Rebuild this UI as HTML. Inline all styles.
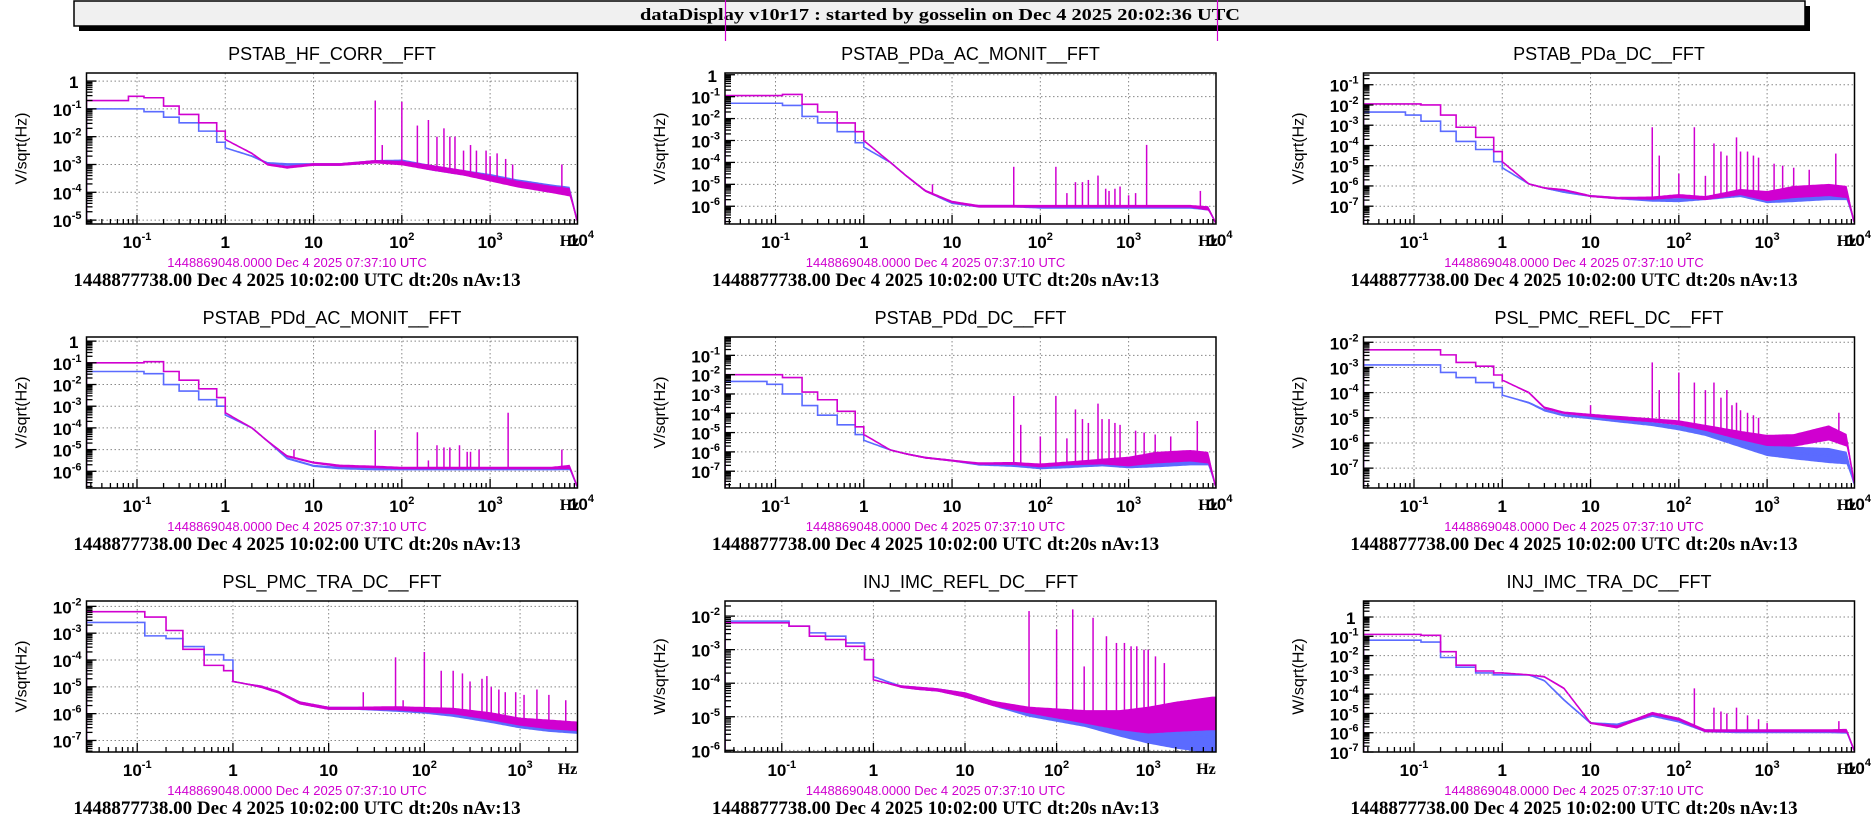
<!DOCTYPE html>
<html><head><meta charset="utf-8"><style>
html,body{margin:0;padding:0;background:#fff;}
svg{display:block;}
</style></head><body>
<svg id="root" width="1871" height="827" viewBox="0 0 1871 827" xmlns="http://www.w3.org/2000/svg">
<g>
<rect x="79" y="6" width="1731" height="25" fill="#000"/>
<rect x="74" y="1" width="1731" height="25" fill="#f0f0f0" stroke="#000" stroke-width="1.5"/>
<text x="940" y="20" text-anchor="middle" font-family="Liberation Serif, serif" font-weight="bold" font-size="17" textLength="600" lengthAdjust="spacingAndGlyphs">dataDisplay v10r17 : started by gosselin on Dec  4 2025 20:02:36 UTC</text>
</g>
<line x1="725.5" y1="0" x2="725.5" y2="41" stroke="#d000d0" stroke-width="1.2"/>
<line x1="1217.5" y1="0" x2="1217.5" y2="41" stroke="#d000d0" stroke-width="1.2"/>
<g id="panels"></g>
</svg>
<script>
// shared frequency grid (Hz)
const F = [0.027,0.08,0.12,0.2,0.3,0.5,0.8,1,2,3,5,10,20,50,100,200,500,1000,2000,5000,8000,9800];
const TITLES = ["PSTAB_HF_CORR__FFT","PSTAB_PDa_AC_MONIT__FFT","PSTAB_PDa_DC__FFT","PSTAB_PDd_AC_MONIT__FFT","PSTAB_PDd_DC__FFT","PSL_PMC_REFL_DC__FFT","PSL_PMC_TRA_DC__FFT","INJ_IMC_REFL_DC__FFT","INJ_IMC_TRA_DC__FFT"];
const YLABELS = ["V/sqrt(Hz)","V/sqrt(Hz)","V/sqrt(Hz)","V/sqrt(Hz)","V/sqrt(Hz)","V/sqrt(Hz)","V/sqrt(Hz)","W/sqrt(Hz)","W/sqrt(Hz)"];
const XRANGE = [[-1.572,3.99],[-1.572,3.99],[-1.572,3.99],[-1.572,3.99],[-1.572,3.99],[-1.572,3.99],[-1.53,3.6],[-1.62,3.74],[-1.572,3.99]];
const YRANGE = [[0.29,-5.14],[0.08,-6.81],[-0.42,-7.88],[0.19,-6.77],[-0.05,-7.87],[-1.79,-7.79],[-1.8,-7.43],[-1.55,-6.05],[0.83,-7.0]];
// log10 amplitude at grid F: magenta (reference) and blue (current)
const MAG1=[-0.7,-0.55,-0.6,-0.9,-1.2,-1.5,-1.8,-2.1,-2.6,-3.0,-3.1,-3.0,-3.0,-2.9,-2.95,-3.1,-3.3,-3.5,-3.7,-3.9,-4.0,-5.1];
const BLU1=[-1.0,-1.0,-1.1,-1.3,-1.5,-1.8,-2.2,-2.4,-2.7,-2.95,-3.0,-3.0,-3.0,-2.9,-2.9,-3.1,-3.3,-3.45,-3.65,-3.85,-3.95,-5.1];
const MAG2=[-0.95,-0.95,-0.9,-1.35,-1.7,-2.2,-2.6,-3.0,-4.0,-4.6,-5.3,-5.8,-6.0,-6.0,-6.0,-6.0,-6.0,-6.0,-6.0,-6.0,-6.1,-6.8];
const BLU2=[-1.3,-1.3,-1.4,-1.9,-2.2,-2.6,-3.1,-3.3,-4.0,-4.6,-5.3,-5.85,-6.0,-6.0,-6.05,-6.05,-6.05,-6.05,-6.05,-6.05,-6.1,-6.8];
const MAG3=[-1.95,-1.95,-2.0,-2.5,-3.1,-3.6,-4.3,-4.8,-5.9,-6.1,-6.2,-6.5,-6.6,-6.6,-6.5,-6.6,-6.3,-6.5,-6.3,-6.2,-6.3,-7.9];
const BLU3=[-2.35,-2.5,-2.8,-3.3,-3.8,-4.2,-4.8,-5.1,-5.9,-6.1,-6.3,-6.5,-6.6,-6.7,-6.7,-6.6,-6.4,-6.6,-6.5,-6.4,-6.4,-7.9];
const MAG4=[-1.0,-1.0,-0.95,-1.4,-1.8,-2.2,-2.6,-3.3,-4.0,-4.6,-5.3,-5.6,-5.75,-5.8,-5.85,-5.85,-5.85,-5.85,-5.85,-5.85,-5.8,-6.77];
const BLU4=[-1.4,-1.4,-1.5,-2.0,-2.3,-2.7,-3.0,-3.4,-4.0,-4.6,-5.4,-5.75,-5.85,-5.9,-5.9,-5.9,-5.9,-5.9,-5.9,-5.9,-5.85,-6.77];
const MAG5=[-2.0,-2.0,-2.15,-2.9,-3.3,-3.9,-4.7,-5.1,-5.9,-6.1,-6.3,-6.45,-6.6,-6.6,-6.7,-6.6,-6.5,-6.5,-6.3,-6.2,-6.3,-7.9];
const BLU5=[-2.35,-2.5,-3.0,-3.6,-4.1,-4.6,-5.1,-5.4,-5.9,-6.1,-6.3,-6.45,-6.65,-6.7,-6.8,-6.75,-6.6,-6.6,-6.5,-6.4,-6.4,-7.9];
const MAG6=[-2.3,-2.3,-2.3,-2.5,-2.8,-2.95,-3.3,-3.5,-4.0,-4.6,-4.8,-4.9,-5.0,-5.1,-5.2,-5.4,-5.7,-5.9,-5.9,-5.6,-5.9,-7.7];
const BLU6=[-2.9,-2.9,-2.9,-3.2,-3.4,-3.6,-3.8,-4.1,-4.4,-4.7,-4.9,-5.0,-5.1,-5.25,-5.4,-5.6,-6.0,-6.3,-6.4,-6.5,-6.6,-7.7];
const MAG7=[-2.2,-2.2,-2.4,-2.9,-3.6,-4.2,-4.4,-4.8,-5.0,-5.2,-5.6,-5.8,-5.8,-5.8,-5.85,-5.9,-6.1,-6.3,-6.4,-6.5,-6.6,-7.4];
const BLU7=[-2.6,-2.6,-3.1,-3.2,-3.5,-3.8,-4.0,-4.8,-5.0,-5.2,-5.6,-5.8,-5.8,-5.85,-5.9,-6.0,-6.2,-6.4,-6.5,-6.6,-6.7,-7.4];
const MAG8=[-2.2,-2.2,-2.3,-2.6,-2.7,-2.9,-3.3,-3.9,-4.1,-4.15,-4.2,-4.35,-4.6,-4.8,-4.9,-5.0,-5.1,-5.1,-5.0,-4.9,-4.9,-4.9];
const BLU8=[-2.15,-2.15,-2.3,-2.5,-2.6,-2.8,-3.3,-3.8,-4.1,-4.15,-4.2,-4.35,-4.6,-4.9,-5.0,-5.1,-5.3,-5.4,-5.5,-5.6,-5.6,-5.6];
const MAG9=[-0.9,-0.9,-0.95,-1.8,-2.5,-2.8,-2.9,-2.9,-3.0,-3.1,-3.7,-5.5,-5.7,-5.0,-5.3,-5.9,-5.9,-5.9,-5.9,-5.9,-5.9,-7.0];
const BLU9=[-1.2,-1.2,-1.3,-2.1,-2.6,-2.9,-3.0,-3.0,-3.0,-3.3,-4.3,-5.5,-5.6,-5.1,-5.4,-5.9,-5.95,-5.95,-5.95,-5.95,-5.95,-7.0];
// noise band half-width (decades) at grid F
const W1=[0,0,0,0,0,0,0,0,0.03,0.04,0.05,0.05,0.05,0.06,0.08,0.1,0.1,0.11,0.12,0.13,0.15,0.03];
const W2=[0,0,0,0,0,0,0,0,0.03,0.04,0.05,0.05,0.06,0.06,0.06,0.06,0.06,0.06,0.06,0.06,0.1,0.03];
const W3=[0,0,0,0,0,0,0,0,0.03,0.04,0.05,0.05,0.06,0.08,0.1,0.1,0.15,0.25,0.3,0.3,0.3,0.03];
const W4=W2;
const W5=W3;
const W6=[0,0,0,0,0,0,0,0,0.04,0.05,0.05,0.06,0.08,0.08,0.1,0.12,0.18,0.22,0.25,0.3,0.25,0.03];
const W7=[0,0,0,0,0,0,0,0,0.05,0.05,0.06,0.06,0.06,0.08,0.1,0.12,0.15,0.15,0.18,0.18,0.18,0.03];
const W8=[0,0,0,0,0,0,0,0,0.04,0.05,0.05,0.08,0.08,0.1,0.15,0.2,0.3,0.4,0.45,0.5,0.5,0.5];
const W9=[0,0,0,0,0,0,0,0,0.03,0.04,0.05,0.05,0.08,0.08,0.08,0.08,0.08,0.08,0.08,0.08,0.1,0.03];
// spectral lines: frequency (Hz) and peak log10 amplitude
const PKF1=[50,60,100,150,200,250,300,350,400,500,600,700,900,1000,1200,1500,1800,6500];
const PKA1=[-0.7,-2.3,-0.75,-1.6,-1.4,-2.0,-1.7,-2.0,-2.0,-2.5,-2.3,-2.5,-2.5,-2.7,-2.6,-2.8,-3.0,-3.0];
const PKF2=[6,50,150,200,250,300,350,450,550,600,700,800,1000,1200,1600,6500];
const PKA2=[-5.0,-4.2,-4.2,-5.4,-4.9,-4.9,-4.8,-4.6,-5.2,-5.3,-5.2,-5.1,-5.5,-5.4,-3.2,-5.3];
const PKF3=[50,60,100,150,200,250,300,350,450,500,600,700,800,1200,1500,2000,3000,6000];
const PKA3=[-3.1,-4.5,-5.4,-3.1,-5.5,-3.9,-4.3,-4.5,-3.6,-4.3,-4.3,-4.5,-4.6,-4.9,-5.0,-5.1,-5.2,-4.4];
const PKF4=[6,50,150,200,250,300,350,450,550,600,750,1600,6500];
const PKA4=[-5.0,-4.1,-4.2,-5.5,-4.8,-4.9,-4.9,-4.8,-5.1,-5.1,-5.0,-3.3,-5.0];
const PKF5=[50,60,100,150,200,250,300,350,450,500,600,700,800,1200,1500,2000,3000,6000];
const PKA5=[-3.1,-4.6,-5.2,-3.1,-5.3,-3.8,-4.3,-4.5,-3.5,-4.3,-4.3,-4.5,-4.6,-4.9,-5.0,-5.1,-5.2,-4.4];
const PKF6=[10,50,60,100,150,200,250,300,350,400,450,500,600,700,800,6500];
const PKA6=[-4.5,-2.8,-3.9,-3.2,-3.6,-3.9,-3.6,-4.2,-3.9,-4.5,-4.4,-4.7,-4.8,-4.9,-5.0,-4.8];
const PKF7=[23,50,60,100,150,200,250,300,400,450,500,600,700,900,1100,1500,2000,3000];
const PKA7=[-5.2,-3.9,-5.5,-3.7,-4.4,-4.4,-4.5,-4.8,-4.7,-4.6,-5.0,-5.1,-5.2,-5.2,-5.3,-5.1,-5.3,-5.5];
const PKF8=[50,100,150,200,250,350,450,550,650,750,900,1000,1200,1500];
const PKA8=[-1.85,-2.4,-1.8,-3.5,-2.05,-2.6,-2.8,-2.8,-2.9,-2.9,-3.0,-3.0,-3.2,-3.4];
const PKF9=[150,250,300,350,450,600,800,1000,6500];
const PKA9=[-3.7,-4.7,-4.9,-5.0,-4.7,-5.1,-5.3,-5.5,-5.4];

const MAGS=[MAG1,MAG2,MAG3,MAG4,MAG5,MAG6,MAG7,MAG8,MAG9];
const BLUS=[BLU1,BLU2,BLU3,BLU4,BLU5,BLU6,BLU7,BLU8,BLU9];
const WS=[W1,W2,W3,W4,W5,W6,W7,W8,W9];
const PKFS=[PKF1,PKF2,PKF3,PKF4,PKF5,PKF6,PKF7,PKF8,PKF9];
const PKAS=[PKA1,PKA2,PKA3,PKA4,PKA5,PKA6,PKA7,PKA8,PKA9];

const NS="http://www.w3.org/2000/svg";
const MAGC="#d000d0", BLUC="#5b6bff";
const FW=491, FH=151;
function mk(tag, attrs, parent){const e=document.createElementNS(NS,tag);for(const k in attrs)e.setAttribute(k,attrs[k]);if(parent)parent.appendChild(e);return e;}
function interp(arr, lf){
  const L=F.map(Math.log10);
  if(lf<=L[0])return arr[0];
  for(let i=1;i<L.length;i++){ if(lf<=L[i]){const t=(lf-L[i-1])/(L[i]-L[i-1]);return arr[i-1]+t*(arr[i]-arr[i-1]);} }
  return arr[arr.length-1];
}
function supLabel(g,x,y,base,exp,anchor,size){
  const t=mk('text',{x:x,y:y,'text-anchor':anchor,'font-family':'Liberation Sans, sans-serif','font-weight':'bold','font-size':size,fill:'#000'},g);
  if(exp===null){t.textContent=base;return t;}
  const a=mk('tspan',{},t);a.textContent=base;
  const b=mk('tspan',{dy:-8,'font-size':Math.round(size*0.65)},t);b.textContent=exp;
  return t;
}
const root=document.getElementById('panels');
for(let p=0;p<9;p++){
  const col=p%3,row=Math.floor(p/3);
  const X0=86.5+col*638.5, Y0=73+row*264;
  const [lx0,lx1]=XRANGE[p],[ly0,ly1]=YRANGE[p];
  const sx=lf=>X0+(lf-lx0)/(lx1-lx0)*FW;
  const sy=lv=>Y0+(ly0-lv)/(ly0-ly1)*FH;
  const g=mk('g',{},root);
  
  
  const cid='clip'+p;
  const cp=mk('clipPath',{id:cid},g);mk('rect',{x:X0,y:Y0,width:FW,height:FH},cp);
  const title=mk('text',{x:X0+FW/2,y:Y0-13,'text-anchor':'middle','font-family':'Liberation Sans, sans-serif','font-size':18,fill:'#000'},g);
  title.textContent=TITLES[p];
  
  
  const yl=mk('text',{x:0,y:0,transform:`translate(${X0-60},${Y0+FH/2}) rotate(-90)`,'text-anchor':'middle','font-family':'Liberation Sans, sans-serif','font-size':16,fill:'#000'},g);
  yl.textContent=YLABELS[p];
  
  
  const grid=mk('g',{stroke:'#888','stroke-width':1,'stroke-dasharray':'1.5,2.5'},g);
  
  
  for(let d=Math.ceil(lx0);d<=Math.floor(lx1);d++){const x=sx(d);mk('line',{x1:x,y1:Y0,x2:x,y2:Y0+FH},grid);}
  for(let d=Math.ceil(ly1);d<=Math.floor(ly0);d++){const y=sy(d);mk('line',{x1:X0,y1:y,x2:X0+FW,y2:y},grid);}
  const series=[[BLUS[p],BLUC,'blue-spectrum'],[MAGS[p],MAGC,'magenta-reference-spectrum']];
  const W=WS[p];
  for(const [arr,color,name] of series){
    const sg=mk('g',{'clip-path':`url(#${cid})`},g);
    
    
    let d=`M${X0},${sy(ly1-1)} L${X0},${sy(arr[0])}`;
    for(let i=1;i<8;i++){d+=` L${sx(Math.log10(F[i]))},${sy(arr[i-1])} L${sx(Math.log10(F[i]))},${sy(arr[i])}`;}
    const up=[],lo=[];
    for(let lf=0;lf<=lx1+0.3;lf+=0.02){
      const v=interp(arr,lf),w=interp(W,lf);
      d+=` L${sx(lf).toFixed(1)},${sy(v).toFixed(1)}`;
      up.push(`${sx(lf).toFixed(1)},${sy(v+w).toFixed(1)}`);
      lo.unshift(`${sx(lf).toFixed(1)},${sy(v-w).toFixed(1)}`);
    }
    const band=mk('polygon',{points:up.concat(lo).join(' '),fill:color},sg);
    
    
    const path=mk('path',{d:d,fill:'none',stroke:color,'stroke-width':1.6},sg);
    
    
    if(color===MAGC){
      const pf=PKFS[p],pa=PKAS[p];
      for(let i=0;i<pf.length;i++){
        const lf=Math.log10(pf[i]);
        const ln=mk('line',{x1:sx(lf),x2:sx(lf),y1:sy(interp(arr,lf)),y2:sy(pa[i]),stroke:color,'stroke-width':1.5},sg);
        
        
      }
    }
  }
  const fr=mk('rect',{x:X0,y:Y0,width:FW,height:FH,fill:'none',stroke:'#000','stroke-width':1.5},g);
  
  
  const tk=mk('g',{stroke:'#000','stroke-width':1.3},g);
  
  
  for(let d=Math.floor(lx0);d<=Math.ceil(lx1);d++){
    for(let m=1;m<10;m++){const lf=d+Math.log10(m);if(lf<lx0||lf>lx1)continue;const x=sx(lf);
      mk('line',{x1:x,y1:Y0+FH,x2:x,y2:Y0+FH-(m===1?9:5)},tk);}
  }
  for(let d=Math.floor(ly1);d<=Math.ceil(ly0);d++){
    for(let m=1;m<10;m++){const lv=d+Math.log10(m);if(lv<ly1||lv>ly0)continue;const y=sy(lv);
      mk('line',{x1:X0,y1:y,x2:X0+(m===1?10:6),y2:y},tk);}
  }
  const xl=mk('g',{},g);
  
  
  for(let d=Math.ceil(lx0);d<=Math.floor(lx1);d++){
    const x=sx(d),y=Y0+FH+24;
    if(d===0)supLabel(xl,x,y,'1',null,'middle',17);
    else if(d===1)supLabel(xl,x,y,'10',null,'middle',17);
    else supLabel(xl,x,y,'10',String(d),'middle',17);
  }
  if(lx1>3.9) supLabel(xl,X0+FW+4,Y0+FH+22,'10','4','middle',17);
  const hz=mk('text',{x:X0+FW-(lx1>3.9?8:10),y:Y0+FH+22,'text-anchor':'middle','font-family':'Liberation Serif, serif','font-weight':'bold','font-size':16,fill:'#000'},xl);
  hz.textContent='Hz';
  const yg=mk('g',{},g);
  
  
  for(let d=Math.ceil(ly1);d<=Math.floor(ly0);d++){
    const y=sy(d)+7;
    if(d===0)supLabel(yg,X0-8,y,'1',null,'end',17);
    else supLabel(yg,X0-5,y,'10',String(d),'end',17);
  }
  const ts1=mk('text',{x:X0+FW/2-35,y:Y0+FH+43,'text-anchor':'middle','font-family':'Liberation Sans, sans-serif','font-size':13,fill:MAGC},g);
  ts1.textContent='1448869048.0000 Dec 4 2025 07:37:10 UTC';
  
  
  const ts2=mk('text',{x:X0+FW/2-35,y:Y0+FH+62,'text-anchor':'middle','font-family':'Liberation Serif, serif','font-weight':'bold','font-size':19,fill:'#000'},g);
  ts2.textContent='1448877738.00 Dec 4 2025 10:02:00 UTC dt:20s nAv:13';
  
  
}
</script>
</body></html>
